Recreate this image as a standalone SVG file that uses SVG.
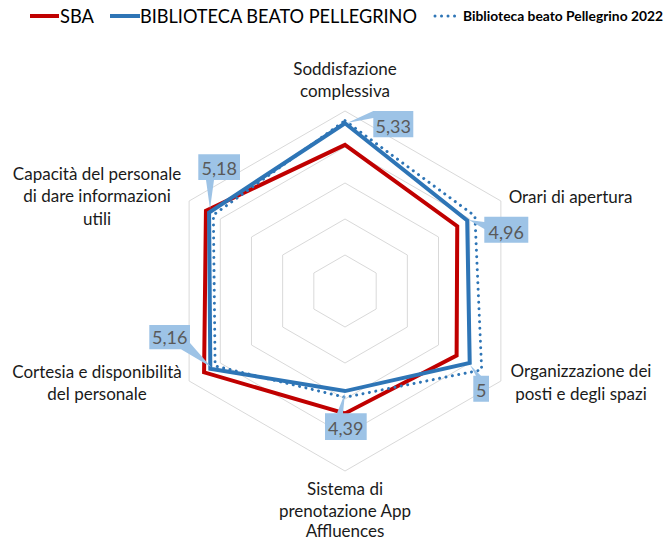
<svg xmlns="http://www.w3.org/2000/svg" width="667" height="541" viewBox="0 0 667 541">
<style>
.grid{fill:none;stroke:#D9D9D9;stroke-width:1}
.sba{fill:none;stroke:#C00000;stroke-width:4;stroke-linejoin:miter}
.bib{fill:none;stroke:#2E75B6;stroke-width:4;stroke-linejoin:miter}
.b22{fill:none;stroke:#2E75B6;stroke-width:3;stroke-linecap:round;stroke-dasharray:0.01 6.5}
.cat{font-family:Lato,"Noto Sans","Liberation Sans",sans-serif;font-size:17px;fill:#1a1a1a;text-anchor:middle}
.lbox{fill:#9DC3E6;stroke:none}
.ltxt{font-family:Lato,"Noto Sans","Liberation Sans",sans-serif;font-size:18px;fill:#595959;text-anchor:middle}
.leg{font-family:Lato,"Noto Sans","Liberation Sans",sans-serif;fill:#000}
</style>
<rect width="667" height="541" fill="#fff"/>
<g id="legend">
<line x1="30" y1="16" x2="59" y2="16" stroke="#C00000" stroke-width="4"/>
<text class="leg" x="60" y="23" font-size="19" textLength="34" lengthAdjust="spacingAndGlyphs">SBA</text>
<line x1="110" y1="16" x2="140" y2="16" stroke="#2E75B6" stroke-width="4"/>
<text class="leg" x="140" y="23" font-size="19" textLength="277" lengthAdjust="spacingAndGlyphs">BIBLIOTECA BEATO PELLEGRINO</text>
<line x1="435" y1="16" x2="461" y2="16" class="b22" stroke-dasharray="0.01 6.5"/>
<text class="leg" x="463" y="21" font-size="12.5" font-weight="700" textLength="200" lengthAdjust="spacingAndGlyphs">Biblioteca beato Pellegrino 2022</text>
</g>
<g id="grid">
<polygon class="grid" points="345,255 376.18,273 376.18,309 345,327 313.82,309 313.82,273"/>
<polygon class="grid" points="345,219 407.35,255 407.35,327 345,363 282.65,327 282.65,255"/>
<polygon class="grid" points="345,183 438.53,237 438.53,345 345,399 251.47,345 251.47,237"/>
<polygon class="grid" points="345,147 469.71,219 469.71,363 345,435 220.29,363 220.29,219"/>
<polygon class="grid" points="345,111 500.88,201 500.88,381 345,471 189.12,381 189.12,201"/>
</g>
<g id="series">
<polygon id="series-sba" class="sba" points="345,144.84 457.24,226.2 456.61,355.44 345,413.4 204.08,372.36 205.95,210.72"/>
<polygon id="series-biblioteca" class="bib" points="345,123.24 467.21,220.44 469.71,363 345,391.08 210.32,368.76 209.07,212.52"/>
<polygon id="series-2022" class="b22" points="345,120.7 474.9,216 481.66,369.9 345,397.3 215.1,366 213.36,215"/>
</g>
<g id="categories">
<g id="cat-soddisfazione"><text class="cat" x="345" y="75">Soddisfazione</text><text class="cat" x="345" y="97">complessiva</text></g>
<g id="cat-orari"><text class="cat" x="570.5" y="203">Orari di apertura</text></g>
<g id="cat-organizzazione"><text class="cat" x="581" y="377">Organizzazione dei</text><text class="cat" x="581" y="400">posti e degli spazi</text></g>
<g id="cat-sistema"><text class="cat" x="345" y="495">Sistema di</text><text class="cat" x="345" y="517">prenotazione App</text><text class="cat" x="345" y="537">Affluences</text></g>
<g id="cat-cortesia"><text class="cat" x="97" y="378">Cortesia e disponibilità</text><text class="cat" x="97" y="400">del personale</text></g>
<g id="cat-capacita"><text class="cat" x="97" y="180">Capacità del personale</text><text class="cat" x="97" y="202">di dare informazioni</text><text class="cat" x="97" y="225">utili</text></g>
</g>
<g id="data-labels">
<g id="dl-533"><path class="lbox" d="M347,123 L373.3,111 H413.3 V137.3 H373.3 V118 Z"/><text class="ltxt" x="393.3" y="133">5,33</text></g>
<g id="dl-496"><path class="lbox" d="M469,220 L484.3,222 V216.7 H528.3 V242.7 H484.3 V229 Z"/><text class="ltxt" x="506.3" y="239">4,96</text></g>
<g id="dl-518"><path class="lbox" d="M198.3,154.3 H240 V180 H214 L210,209 L206,180 H198.3 Z"/><text class="ltxt" x="219.2" y="175">5,18</text></g>
<g id="dl-516"><path class="lbox" d="M149.3,325 H190 V343 L211,367 L181,349.3 H149.3 Z"/><text class="ltxt" x="169.7" y="344">5,16</text></g>
<g id="dl-439"><path class="lbox" d="M325,413.3 H337 L345,393 L343,413.3 H366.7 V440 H325 Z"/><text class="ltxt" x="345.8" y="435">4,39</text></g>
<g id="dl-5"><path class="lbox" d="M473.3,375.7 H476 L470,365 L481,375.7 H489 V401.7 H473.3 Z"/><text class="ltxt" x="481.2" y="397">5</text></g>
</g>
</svg>
